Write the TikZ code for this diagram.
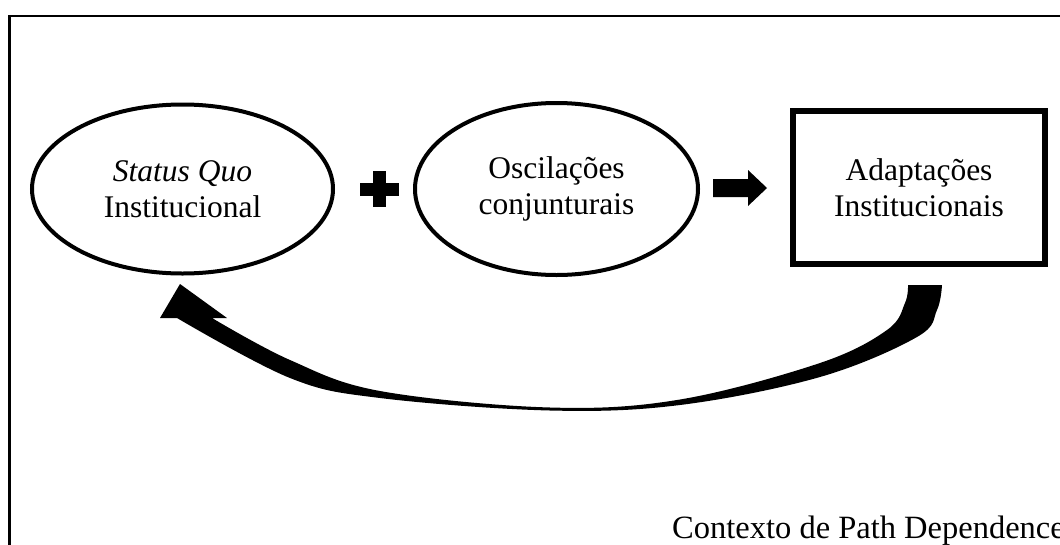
\documentclass[tikz,border=0pt]{standalone}
\usepackage{fontspec}
\setmainfont{Liberation Serif}
\usetikzlibrary{shapes.geometric}

\tikzset{
  txt/.style={align=center, inner sep=0pt, font=\fontsize{31.5}{36}\selectfont},
  oval/.style={txt, ellipse, draw, line width=4pt},
  boxed/.style={txt, rectangle, draw, line width=6.5pt},
  solid shape/.style={fill=black, draw=none}
}

\begin{document}
\begin{tikzpicture}[x=1pt, y=-1pt]
  \useasboundingbox (0,0) rectangle (1060,544);
  \clip (0,0) rectangle (1060,544);
  \fill[white] (0,0) rectangle (1060,544);

  % outer frame (runs past the right and bottom edges)
  \draw[line width=2.2pt] (9.5,15.7) rectangle (1090,580);

  % the three stages
  \node[oval, minimum width=301pt, minimum height=169pt] (sq) at (182.5,189)
    {\textit{Status Quo}\\Institucional};
  \node[oval, minimum width=283pt, minimum height=172pt] (osc) at (556.5,189)
    {Oscilações\\conjunturais};
  \node[boxed, minimum width=252pt, minimum height=153pt] (adp) at (919,187.5)
    {Adaptações\\Institucionais};

  % plus sign between the ovals
  \fill[solid shape] (360,183) rectangle (399,196);
  \fill[solid shape] (373,171) rectangle (386,207);

  % block arrow towards the box
  \fill[solid shape] (713,179) -- (748,179) -- (748,170) -- (767,188)
    -- (748,206) -- (748,197) -- (713,197) -- cycle;

  % tapered curved arrow from the box back to the first oval
  \fill[solid shape] (180,284) -- (227,318) -- (212,318)
    -- plot[smooth, tension=0.6] coordinates {(212,318) (290,360) (380,391)
        (550,407.5) (680,399.5) (820,363) (887,330) (905,303) (908,285)}
    -- (942,285)
    -- plot[smooth, tension=0.6] coordinates {(942,285) (937,310) (917,337)
        (820,377) (680,405) (550,410.5) (380,398) (290,378) (177,318)}
    -- (160,318) -- cycle;

  % caption of the frame
  \node[inner sep=0pt, anchor=base west, font=\fontsize{32.5}{36}\selectfont]
    (ctx) at (672,538) {Contexto de Path Dependence};
\end{tikzpicture}
\end{document}
